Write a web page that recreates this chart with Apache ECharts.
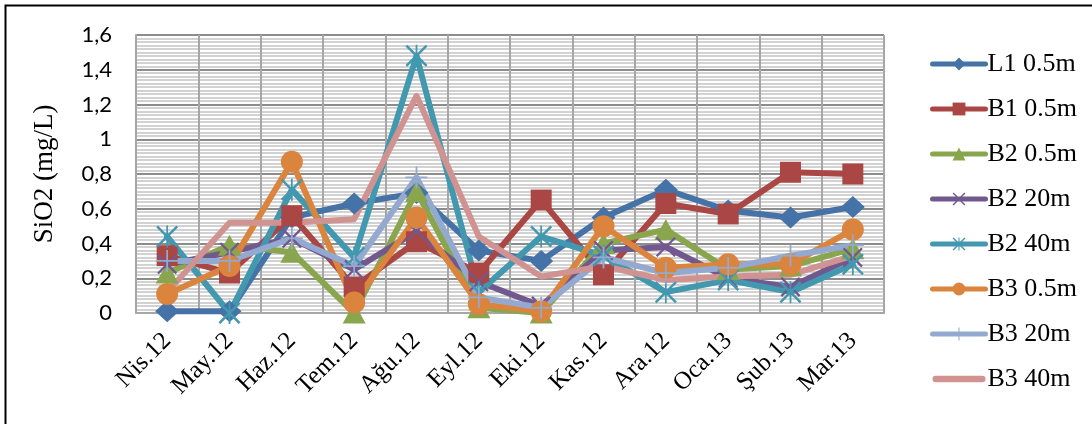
<!DOCTYPE html>
<html>
<head>
<meta charset="utf-8">
<script src="https://cdn.jsdelivr.net/npm/echarts@6/dist/echarts.min.js"></script>
<style>
  html, body { margin: 0; padding: 0; background: #fff; }
  #chart { width: 1092px; height: 424px; }
</style>
</head>
<body>
<div id="chart"></div>
<script>
const months = ['Nis.12', 'May.12', 'Haz.12', 'Tem.12', 'Ağu.12', 'Eyl.12', 'Eki.12', 'Kas.12', 'Ara.12', 'Oca.13', 'Şub.13', 'Mar.13'];
const yTickLabels = ['0', '0,2', '0,4', '0,6', '0,8', '1', '1,2', '1,4', '1,6'];

const l1_05 = [0.01, 0.01, 0.55, 0.63, 0.69, 0.36, 0.30, 0.55, 0.71, 0.59, 0.55, 0.61];
const b1_05 = [0.33, 0.23, 0.56, 0.15, 0.41, 0.23, 0.65, 0.22, 0.63, 0.57, 0.81, 0.80];
const b2_05 = [0.23, 0.39, 0.35, 0.00, 0.70, 0.03, 0.00, 0.40, 0.48, 0.25, 0.27, 0.37];
const b2_20 = [0.28, 0.35, 0.43, 0.25, 0.47, 0.18, 0.04, 0.36, 0.38, 0.20, 0.15, 0.32];
const b2_40 = [0.44, 0.00, 0.71, 0.32, 1.48, 0.12, 0.44, 0.33, 0.12, 0.19, 0.12, 0.28];
const b3_05 = [0.11, 0.27, 0.87, 0.06, 0.55, 0.05, 0.01, 0.50, 0.26, 0.28, 0.28, 0.48];
const b3_20 = [0.30, 0.30, 0.43, 0.27, 0.78, 0.09, 0.03, 0.32, 0.23, 0.26, 0.33, 0.39];
const b3_40 = [0.12, 0.52, 0.52, 0.54, 1.25, 0.44, 0.21, 0.27, 0.19, 0.21, 0.22, 0.33];

// thin marker shapes drawn as filled paths
const crossPath = 'path://M0,0.8 L0.8,0 L10,9.2 L9.2,10 Z M9.2,0 L10,0.8 L0.8,10 L0,9.2 Z';
const starPath = crossPath.replace('path://', 'path://M4.6,0 L5.4,0 L5.4,10 L4.6,10 Z ');
const plusPath = 'path://M4.6,0 L5.4,0 L5.4,10 L4.6,10 Z M0,4.6 L10,4.6 L10,5.4 L0,5.4 Z';
const barPath = 'path://M3,0 L47,0 A3,3 0 0 1 47,6 L3,6 A3,3 0 0 1 3,0 Z';

const makeSeries = (name, data, color, symbol, size) => ({
  name: name,
  type: 'line',
  data: data,
  symbol: symbol,
  symbolSize: size,
  showAllSymbol: true,
  color: color,
  lineStyle: { width: 6, color: color, cap: 'round', join: 'round' },
  itemStyle: { color: color, borderWidth: 0 }
});

const initChart = () => {
  const chart = echarts.init(document.getElementById('chart'));
  chart.setOption({
    animation: false,
    grid: { left: 136, right: 208, top: 35, bottom: 111 },
    graphic: [{
      type: 'rect',
      shape: { x: 5.5, y: 5.5, width: 1200, height: 500 },
      style: { fill: 'none', stroke: '#000', lineWidth: 2 },
      silent: true
    }],
    legend: {
      orient: 'vertical',
      left: 925,
      top: 46,
      itemWidth: 53,
      itemHeight: 16,
      itemGap: 19,
      lineStyle: { width: 5, cap: 'round' },
      data: [
        'L1 0.5m', 'B1 0.5m', 'B2 0.5m', 'B2 20m', 'B2 40m', 'B3 0.5m', 'B3 20m',
        { name: 'B3 40m', icon: barPath }
      ],
      textStyle: { fontFamily: 'Liberation Serif', fontSize: 26, color: '#000', lineHeight: 26, padding: [0, 0, 0, -3] }
    },
    xAxis: {
      type: 'category',
      data: months,
      boundaryGap: true,
      axisLine: { lineStyle: { color: '#a6a6a6', width: 2 } },
      axisTick: { show: false },
      splitLine: { show: true, interval: 0, lineStyle: { color: '#a6a6a6', width: 2 } },
      axisLabel: {
        interval: 0,
        rotate: 45,
        margin: 24,
        fontFamily: 'Liberation Serif',
        fontSize: 25,
        color: '#000'
      }
    },
    yAxis: {
      type: 'value',
      min: 0,
      max: 1.6,
      interval: 0.2,
      name: 'SiO2 (mg/L)',
      nameLocation: 'middle',
      nameGap: 78,
      nameTextStyle: { fontFamily: 'Liberation Serif', fontSize: 27, color: '#000' },
      axisLine: { show: true, lineStyle: { color: '#a6a6a6', width: 2 } },
      axisTick: { show: false },
      axisLabel: {
        margin: 24,
        fontFamily: 'Lato',
        fontSize: 22,
        color: '#000',
        formatter: (v) => yTickLabels[Math.round(v / 0.2)]
      },
      splitLine: { show: true, lineStyle: { color: '#8c8c8c', width: 2 } },
      minorTick: { show: false, splitNumber: 10 },
      minorSplitLine: { show: true, lineStyle: { color: '#c4c4c4', width: 1.5 } }
    },
    series: [
      makeSeries('L1 0.5m', l1_05, '#4572A7', 'diamond', [24, 22]),
      makeSeries('B1 0.5m', b1_05, '#AA4643', 'rect', 21),
      makeSeries('B2 0.5m', b2_05, '#89A54E', 'triangle', [23, 21]),
      makeSeries('B2 20m', b2_20, '#71588F', crossPath, 20),
      makeSeries('B2 40m', b2_40, '#4198AF', starPath, 22),
      makeSeries('B3 0.5m', b3_05, '#DB843D', 'circle', 22),
      makeSeries('B3 20m', b3_20, '#93A9CF', plusPath, 22),
      makeSeries('B3 40m', b3_40, '#D19392', 'none', 1)
    ]
  });
};

window.addEventListener('load', () => {
  initChart();
});
</script>
</body>
</html>
